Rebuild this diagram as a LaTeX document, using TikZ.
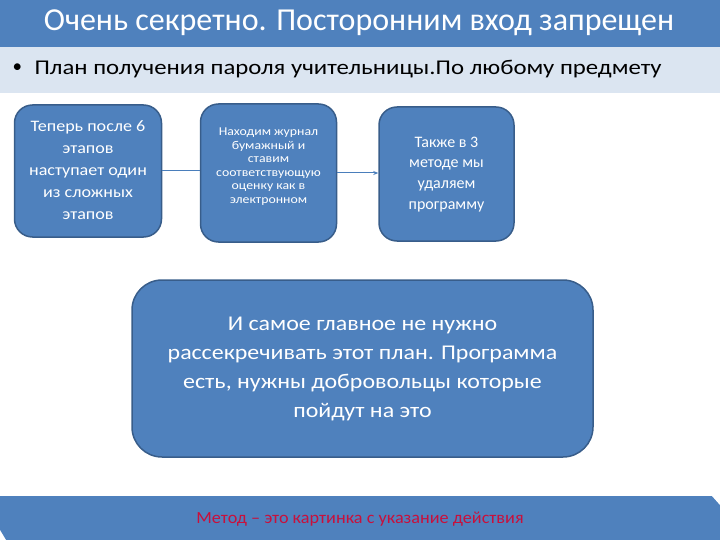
\documentclass[tikz,border=0pt]{standalone}
\usepackage{fontspec}
\setmainfont{Carlito}
\usetikzlibrary{arrows.meta}
\definecolor{hdr}{RGB}{79,129,189}
\definecolor{band}{RGB}{219,229,241}
\definecolor{boxline}{RGB}{56,93,138}
\definecolor{conn}{RGB}{74,126,187}
\definecolor{redtxt}{RGB}{200,16,60}
\newcommand{\sx}[2][1.13]{\scalebox{#1}[1]{\setlength{\tabcolsep}{0pt}\begin{tabular}{c}#2\end{tabular}}}
\tikzset{
  stage/.style={draw=boxline, line width=1.5pt, fill=hdr, rounded corners=18pt, text=white, align=center, inner sep=0pt},
  conn/.style={draw=conn, line width=1pt},
}
\begin{document}
\begin{tikzpicture}[x=1pt,y=-1pt]
\useasboundingbox (0,0) rectangle (720,540);
% header
\fill[hdr] (0,0) rectangle (720,47);
\node[text=white, font=\fontsize{32}{36}\selectfont] (title) at (359,23) {Очень секретно. Посторонним вход запрещен};
\fill[band] (0,47) rectangle (720,93);
\node[anchor=west, font=\fontsize{19}{24}\selectfont] (bul) at (9,68) {•};
\node[anchor=west, font=\fontsize{21}{24}\selectfont] (sub) at (31,69) {\scalebox{1.18}[1]{План получения пароля учительницы.По любому предмету}};
% boxes
\node[stage, minimum width=147pt, minimum height=132pt, font=\fontsize{16}{22}\selectfont] (b1) at (88,171)
  {\raisebox{-2pt}{\sx{Теперь после 6\\этапов\\наступает один\\из сложных\\этапов}}};
\node[stage, minimum width=136pt, minimum height=138pt, font=\fontsize{12}{13.5}\selectfont] (b2) at (268.5,173)
  {\sx[1.15]{Находим журнал\\бумажный и\\ставим\\соответствующую\\оценку как в\\электронном\\[12pt]}};
\node[stage, minimum width=135pt, minimum height=134pt, font=\fontsize{16}{20.7}\selectfont] (b3) at (446.5,174)
  {\sx[1.0]{Также в 3\\методе мы\\удаляем\\программу}};
\node[stage, rounded corners=30pt, minimum width=461pt, minimum height=177pt, font=\fontsize{21}{29}\selectfont] (b4) at (362.5,368.5)
  {\raisebox{-3pt}{\sx[1.14]{И самое главное не нужно\\рассекречивать этот план. Программа\\есть, нужны добровольцы которые\\пойдут на это}}};
\draw[conn] (b1.east |- 0,171) -- (b2.west |- 0,171);
\draw[conn, -{Stealth[length=5pt,width=4pt]}] (b2.east |- 0,173) -- (b3.west |- 0,173);
% footer
\fill[hdr] (0,496) rectangle (720,540);
\fill[white] (0,530) -- (6,540) -- (0,540) -- cycle;
\fill[white] (712,496) -- (720,496) -- (720,505) -- cycle;
\node[text=redtxt, font=\fontsize{17}{18}\selectfont] (foot) at (360,519) {\scalebox{1.07}[1]{Метод – это картинка с указание действия}};
\end{tikzpicture}
\end{document}
